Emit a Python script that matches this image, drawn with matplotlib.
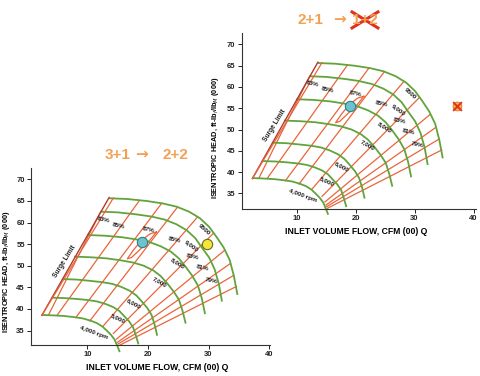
import matplotlib
matplotlib.use('Agg')
import matplotlib.pyplot as plt
from matplotlib.lines import Line2D
from matplotlib.transforms import IdentityTransform

plt.rcParams['font.family'] = ['Liberation Sans', 'DejaVu Sans']

# ---------------- data ----------------
rpm_labels = ['9500', '9,000', '8,000', '7,000', '6,000', '5,000', '4,000 rpm']
rpm9500_x = [13.75, 16.5, 19.8, 22.5, 24.75, 26.8, 28.6, 30.1, 31.3, 32.5, 33.5, 34.2, 34.75]
rpm9500_y = [65.6, 65.45, 64.98, 64.4, 63.66, 62.5, 60.97, 59.0, 56.7, 54.2, 51.3, 47.5, 43.45]
rpm9000_x = [12.3, 15.0, 18.0, 20.5, 22.7, 24.7, 26.4, 27.8, 28.9, 30.1, 31.0, 31.7, 32.2]
rpm9000_y = [62.5, 62.35, 61.9, 61.4, 60.7, 59.6, 58.2, 56.4, 54.2, 51.9, 49.2, 45.8, 41.9]
rpm8000_x = [10.1, 12.8, 15.7, 18.0, 20.2, 22.1, 23.75, 25.1, 26.2, 27.3, 28.25, 28.9, 29.4]
rpm8000_y = [57.1, 56.95, 56.6, 56.1, 55.5, 54.5, 53.3, 51.7, 49.8, 47.7, 45.4, 42.4, 39.0]
rpm7000_x = [8.0, 10.6, 13.2, 15.5, 17.5, 19.3, 20.9, 22.1, 23.2, 24.2, 25.1, 25.7, 26.2]
rpm7000_y = [52.1, 51.95, 51.7, 51.25, 50.75, 50.0, 48.9, 47.6, 45.9, 44.1, 42.2, 39.6, 36.8]
rpm6000_x = [5.95, 8.2, 10.4, 12.4, 14.1, 15.6, 17.0, 18.1, 19.0, 19.9, 20.6, 21.1, 21.5]
rpm6000_y = [46.9, 46.8, 46.5, 46.2, 45.8, 45.1, 44.2, 43.1, 41.7, 40.2, 38.6, 36.4, 34.0]
rpm5000_x = [4.25, 6.3, 8.3, 10.1, 11.7, 13.1, 14.3, 15.3, 16.1, 16.9, 17.55, 18.0, 18.4]
rpm5000_y = [42.6, 42.5, 42.3, 42.05, 41.7, 41.1, 40.4, 39.5, 38.3, 37.1, 35.75, 33.9, 32.0]
rpm4000_x = [2.6, 4.4, 6.25, 7.8, 9.25, 10.5, 11.6, 12.5, 13.2, 13.9, 14.5, 14.9, 15.3]
rpm4000_y = [38.6, 38.5, 38.35, 38.1, 37.8, 37.3, 36.7, 35.9, 35.0, 34.0, 32.9, 31.6, 30.2]

rpm_label_x = [29.3, 27.2, 25.0, 22.0, 17.7, 15.1, 11.0]
rpm_label_y = [58.4, 54.6, 50.55, 46.3, 41.3, 37.8, 34.5]

surge_x = [2.5, 13.6]
surge_y = [38.5, 65.8]
surge2_x = [2.5, 14.3]
surge2_y = [38.5, 65.7]

# efficiency / flow lines: start and end points
eff_x0 = [3.6, 5.0, 8.1, 10.4, 12.6, 14.3, 14.8, 15.0, 15.1, 15.2]
eff_y0 = [38.6, 38.5, 38.0, 37.2, 36.0, 34.3, 33.0, 32.3, 31.9, 31.5]
eff_x1 = [12.2, 18.6, 22.3, 24.9, 28.2, 30.8, 32.6, 33.6, 34.2, 34.6]
eff_y1 = [62.5, 65.1, 64.5, 63.6, 61.3, 57.5, 53.5, 50.5, 47.8, 45.2]

loop87_x = [21.4, 20.4, 19.0, 17.6, 16.6, 17.3, 18.8, 20.3, 21.4]
loop87_y = [57.8, 57.4, 56.0, 53.6, 51.6, 51.9, 53.9, 55.9, 57.8]

eff_labels = ['83%', '85%', '87%', '85%', '83%', '81%', '79%']
eff_lx = [12.6, 15.2, 20.0, 24.3, 27.4, 29.0, 30.4]
eff_ly = [60.6, 59.2, 58.4, 55.95, 52.1, 49.4, 46.5]

blue_pt = (19.0, 55.5)
yellow_pt = (29.7, 55.0)
crossed_pt = (37.2, 55.5)

yticks = [35, 40, 45, 50, 55, 60, 65, 70]
xticks = [10, 20, 30, 40]

speed_x = [rpm9500_x, rpm9000_x, rpm8000_x, rpm7000_x, rpm6000_x, rpm5000_x, rpm4000_x]
speed_y = [rpm9500_y, rpm9000_y, rpm8000_y, rpm7000_y, rpm6000_y, rpm5000_y, rpm4000_y]
rpm_rot = [-42, -36, -32, -30, -28, -25, -20]

GREEN = '#62a33c'
RED = '#e9653a'
DARKRED = '#b03a2e'
ORANGE = '#f2a152'

fig = plt.figure(figsize=(4.8, 3.76), dpi=100)
fig.patch.set_facecolor('white')


def draw_map(ax, xlim, ylim, ylab_pos, xlab_pos):
    ax.patch.set_visible(False)
    ax.set_xlim(*xlim)
    ax.set_ylim(*ylim)
    for sp in ['top', 'right']:
        ax.spines[sp].set_visible(False)
    for sp in ['left', 'bottom']:
        ax.spines[sp].set_linewidth(0.8)
        ax.spines[sp].set_color('#333333')
    ax.set_xticks(xticks)
    ax.set_yticks(yticks)
    ax.tick_params(axis='both', labelsize=5.5, length=3, width=0.7, pad=1.5, colors='#222222')
    for lab in ax.get_xticklabels() + ax.get_yticklabels():
        lab.set_fontweight('bold')
    ax.set_ylabel(r'ISENTROPIC HEAD, ft-lb$_f$/lb$_M$ (000)', fontsize=5.3, fontweight='bold')
    ax.yaxis.set_label_coords(*ylab_pos)
    ax.set_xlabel('INLET VOLUME FLOW, CFM (00) Q', fontsize=6.2, fontweight='bold')
    ax.xaxis.set_label_coords(*xlab_pos)

    # efficiency / flow lines
    for x0, y0, x1, y1 in zip(eff_x0, eff_y0, eff_x1, eff_y1):
        ax.plot([x0, x1], [y0, y1], color=RED, lw=0.9, clip_on=False, zorder=2)
    ax.plot(loop87_x, loop87_y, color=RED, lw=0.9, zorder=2)
    ax.plot(surge_x, surge_y, color=DARKRED, lw=1.0, zorder=3)
    ax.plot(surge2_x, surge2_y, color=RED, lw=0.9, zorder=3)

    # speed lines
    for xs, ys in zip(speed_x, speed_y):
        ax.plot(xs, ys, color=GREEN, lw=1.3, clip_on=False, zorder=2.5)

    for lab, x, y, r in zip(rpm_labels, rpm_label_x, rpm_label_y, rpm_rot):
        ax.text(x, y, lab, fontsize=4.6, fontweight='bold', rotation=r,
                ha='center', va='center', color='#222222', zorder=5)
    for lab, x, y in zip(eff_labels, eff_lx, eff_ly):
        ax.text(x, y, lab, fontsize=4.6, fontweight='bold', rotation=-12,
                ha='center', va='center', color='#222222', zorder=5)
    ax.text(6.3, 50.9, 'Surge Limit', fontsize=4.8, fontweight='bold',
            rotation=58, ha='center', va='center', color='#222222', zorder=5)
    ax.scatter([blue_pt[0]], [blue_pt[1]], s=55, color='#6cc3cc',
               edgecolor='#2f7f86', linewidth=0.8, zorder=6)


# bottom-left chart (drawn first, underneath)
ax2 = fig.add_axes([0.0646, 0.0824, 0.498, 0.47])
draw_map(ax2, (0.71, 40.15), (31.64, 72.55), (-0.078, 0.413), (0.528, -0.10))
ax2.scatter([yellow_pt[0]], [yellow_pt[1]], s=55, color='#f3e83a',
            edgecolor='#6b6a1e', linewidth=0.8, zorder=6)

# top-right chart
ax1 = fig.add_axes([0.5035, 0.4441, 0.488, 0.4673])
draw_map(ax1, (0.68, 40.4), (31.34, 72.58), (-0.09, 0.407), (0.49, -0.10))
ax1.scatter([crossed_pt[0]], [crossed_pt[1]], s=40, color='#f4b740',
            edgecolor='#e06a2a', linewidth=0.6, zorder=6, clip_on=False)
ax1.scatter([crossed_pt[0]], [crossed_pt[1]], s=40, marker='x', color='#e0301e',
            linewidth=1.4, zorder=7, clip_on=False)

# titles (pieces so that the arrow is drawn large)
title_kw = dict(fontsize=11, fontweight='bold', color=ORANGE, ha='center', va='center')
fig.text(310.5 / 480, 0.947, '2+1', **title_kw)
fig.text(339.5 / 480, 0.949, '\u2192', family=['DejaVu Sans'], **title_kw)
t12 = fig.text(365 / 480, 0.947, '1+2', **title_kw)
fig.text(117.5 / 480, 0.588, '3+1', **title_kw)
fig.text(141.5 / 480, 0.590, '\u2192', family=['DejaVu Sans'], **title_kw)
fig.text(175 / 480, 0.588, '2+2', **title_kw)

fig.canvas.draw()
bb = t12.get_window_extent()
fig.add_artist(Line2D([bb.x0, bb.x1], [bb.y0 - 1, bb.y1 + 1], color='#e0301e', lw=2.2,
                      transform=IdentityTransform()))
fig.add_artist(Line2D([bb.x0, bb.x1], [bb.y1 + 1, bb.y0 - 1], color='#e0301e', lw=2.2,
                      transform=IdentityTransform()))

fig.savefig('out.png', dpi=100, facecolor='white')
